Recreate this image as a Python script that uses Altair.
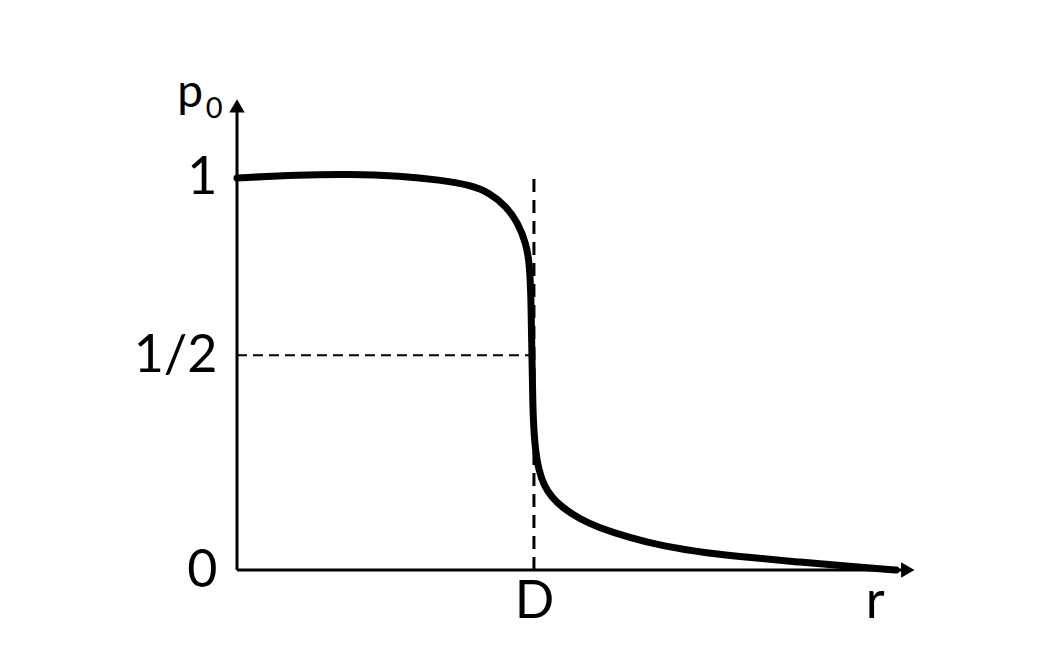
import altair as alt
import pandas as pd

# curve p0(r) (r in units of D, p0 in units of 1)
r_vals = [0.0, 0.21, 0.38, 0.55, 0.684, 0.785, 0.852, 0.909, 0.946, 0.973, 0.985, 0.990, 0.993, 0.996, 1.000, 1.006, 1.016, 1.034, 1.060, 1.098, 1.155, 1.212, 1.323, 1.434, 1.582, 1.727, 1.896, 2.064, 2.22]
p_vals = [1.0, 1.008, 1.010, 1.005, 0.995, 0.982, 0.962, 0.926, 0.885, 0.834, 0.783, 0.700, 0.554, 0.420, 0.350, 0.300, 0.255, 0.215, 0.185, 0.158, 0.130, 0.110, 0.082, 0.061, 0.043, 0.032, 0.020, 0.009, 0.0]

y_tick_values = [0, 0.548, 1]
y_tick_labels = ["0", "1/2", "1"]
x_tick_values = [1.0, 2.148]
x_tick_labels = ["D", "r"]
half_level = 0.548
d_pos = 1.0
x_max = 2.29
y_max = 1.204
x_arrow = 2.259
y_arrow = 1.184

FONT = "Lato"

curve_df = pd.DataFrame({"r": r_vals, "p": p_vals})

xs = alt.Scale(domain=[0, x_max], nice=False, zero=False)
ys = alt.Scale(domain=[0, y_max], nice=False, zero=False)

y_expr = " : ".join(
    f"datum.value == {v} ? '{l}'" for v, l in zip(y_tick_values, y_tick_labels)
) + " : ''"
x_expr = " : ".join(
    f"datum.value == {v} ? '{l}'" for v, l in zip(x_tick_values, x_tick_labels)
) + " : ''"

x_axis = alt.Axis(values=x_tick_values, labelExpr=x_expr, domain=False, ticks=False, grid=False,
                  title=None, labelFont=FONT, labelFontSize=52, labelColor="black", labelPadding=6)
y_axis = alt.Axis(values=y_tick_values, labelExpr=y_expr, domain=False, ticks=False, grid=False,
                  title=None, labelFont=FONT, labelFontSize=52, labelColor="black", labelPadding=20)


def X(f):
    return alt.X(f, type="quantitative", scale=xs, axis=x_axis)


def Y(f):
    return alt.Y(f, type="quantitative", scale=ys, axis=y_axis)


curve = alt.Chart(curve_df).mark_line(color="black", strokeWidth=7, interpolate="basis",
                                      strokeCap="round").encode(
    x=X("r"), y=Y("p")
)

axes_df = pd.DataFrame({"x": [0, 0], "y": [0, 0], "x2": [x_arrow, 0], "y2": [0, y_arrow]})
axes_rules = alt.Chart(axes_df).mark_rule(color="black", strokeWidth=3).encode(
    x=X("x"), y=Y("y"), x2="x2:Q", y2="y2:Q"
)

arrows_df = pd.DataFrame({"x": [x_arrow, 0], "y": [0, y_arrow], "shape": ["triangle-right", "triangle-up"]})
arrows = alt.Chart(arrows_df).mark_point(filled=True, color="black", opacity=1, size=240).encode(
    x=X("x"), y=Y("y"),
    shape=alt.Shape("shape:N", scale=None, legend=None),
)

vdash_df = pd.DataFrame({"x": [d_pos], "y": [0], "y2": [1.01]})
vdash = alt.Chart(vdash_df).mark_rule(color="black", strokeWidth=3, strokeDash=[13, 8]).encode(
    x=X("x"), y=Y("y"), y2="y2:Q"
)
hdash_df = pd.DataFrame({"x": [0], "x2": [d_pos], "y": [half_level]})
hdash = alt.Chart(hdash_df).mark_rule(color="black", strokeWidth=2, strokeDash=[10, 6]).encode(
    x=X("x"), x2="x2:Q", y=Y("y")
)

lab_df = pd.DataFrame({"x": [-0.158], "y": [1.18], "t": ["p"]})
p_label = alt.Chart(lab_df).mark_text(font=FONT, fontSize=46, color="black", align="center", baseline="alphabetic").encode(
    x=X("x"), y=Y("y"), text="t:N"
)
sub_df = pd.DataFrame({"x": [-0.077], "y": [1.153], "t": ["0"]})
sub_label = alt.Chart(sub_df).mark_text(font=FONT, fontSize=29, color="black", align="center", baseline="alphabetic").encode(
    x=X("x"), y=Y("y"), text="t:N"
)

chart = alt.layer(curve, hdash, vdash, axes_rules, arrows, p_label, sub_label).properties(
    width=680, height=472,
    background="white",
    autosize=alt.AutoSizeParams(type="none"),
    padding={"left": 229, "top": 90, "right": 120, "bottom": 80},
).configure_view(strokeWidth=0, stroke="transparent").configure_axis(grid=False)

chart.save("out.html", embed_options={"renderer": "svg", "actions": False})
